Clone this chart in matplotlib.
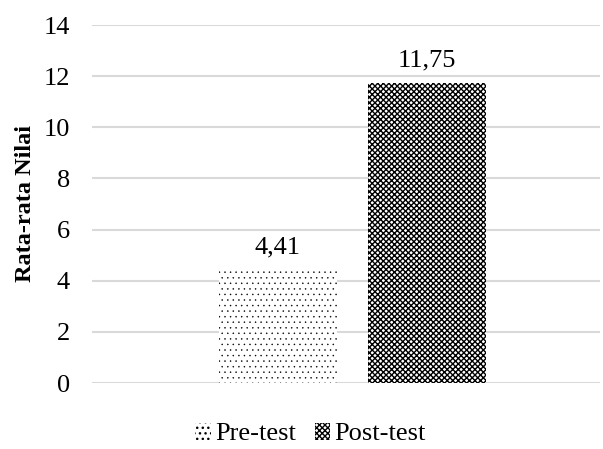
import matplotlib.pyplot as plt

# data
categories = ["Pre-test", "Post-test"]
values = [4.41, 11.75]
value_labels = ["4,41", "11,75"]
y_ticks = [0, 2, 4, 6, 8, 10, 12, 14]

plt.rcParams['font.family'] = ['Liberation Serif', 'DejaVu Serif']
plt.rcParams['hatch.linewidth'] = 1.0

fig = plt.figure(figsize=(6.03, 4.49), dpi=100)
ax = fig.add_axes([92 / 603, (449 - 383) / 449, (600 - 92) / 603, (383 - 25) / 449])

hatches = ['...', 'xxxxxx']
hatch_lw = [0.3, 1.0]
offsets = [-0.147, 0.147]
width = 0.232
center = 0.513
for cat, val, lab, h, hl, off in zip(categories, values, value_labels, hatches, hatch_lw, offsets):
    b = ax.bar(center + off, val, width=width, color='white', edgecolor='black',
               hatch=h, linewidth=0, label=cat, zorder=3)
    for p in b:
        try:
            p.set_hatch_linewidth(hl)
        except AttributeError:
            pass
    ax.text(center + off, val + 0.45, lab, ha='center', va='bottom', fontsize=19)

ax.set_xlim(0, 1)
ax.set_ylim(0, 14)
ax.set_yticks(y_ticks)
ax.set_yticklabels([str(t) for t in y_ticks], fontsize=19)
ax.set_xticks([])
ax.tick_params(axis='y', length=0, pad=16)
ax.grid(True, axis='y', color='#d9d9d9', linewidth=1.5, zorder=0)
for s in ax.spines.values():
    s.set_visible(False)

ax.set_ylabel("Rata-rata Nilai", fontsize=17.5, fontweight='bold', labelpad=5)

fig.legend(loc='lower center', bbox_to_anchor=(0.515, -0.045), ncol=2, frameon=False,
           fontsize=19, handlelength=0.6, handleheight=0.6, handletextpad=0.15,
           columnspacing=0.7)

plt.savefig("out.png", dpi=100)
